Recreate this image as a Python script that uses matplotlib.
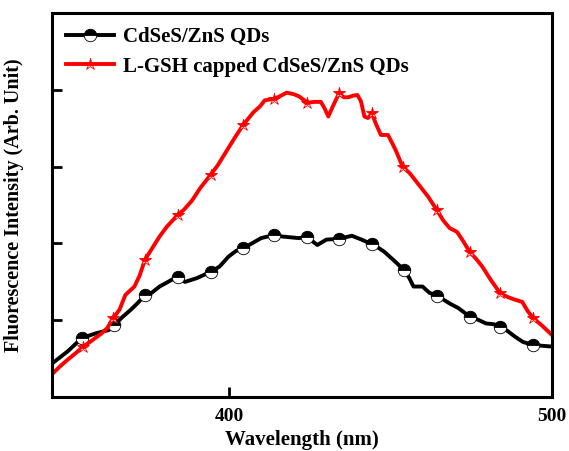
import numpy as np
import matplotlib.pyplot as plt

plt.rcParams['font.family'] = ['Liberation Serif', 'DejaVu Serif']
plt.rcParams['font.weight'] = 'bold'

# CdSeS/ZnS QDs
wl_black = [345.1, 350.0, 354.3, 358.5, 362.7, 364.4, 366.8, 369.4, 371.5, 373.9, 376.0,
            378.4, 381.0, 384.0, 386.3, 390.0, 394.2, 397.0, 399.8, 402.0, 404.3, 407.0,
            409.9, 414.0, 416.5, 418.9, 421.5, 424.2, 427.3, 430.1, 434.0, 436.0, 438.0,
            441.0, 444.2, 446.0, 448.1, 451.0, 454.3, 455.8, 457.1, 459.9, 462.0, 464.4,
            466.0, 468.3, 471.0, 474.5, 477.0, 479.6, 482.0, 484.0, 486.0, 488.5, 491.0,
            494.2, 497.0, 500.0]
int_black = [0.44, 0.60, 0.77, 0.83, 0.875, 0.94, 1.04, 1.135, 1.22, 1.33, 1.36,
             1.44, 1.50, 1.57, 1.50, 1.55, 1.63, 1.70, 1.83, 1.90, 1.94, 2.00,
             2.07, 2.11, 2.09, 2.08, 2.07, 2.08, 1.98, 2.05, 2.06, 2.08, 2.10,
             2.05, 1.99, 1.95, 1.89, 1.78, 1.65, 1.55, 1.44, 1.44, 1.36, 1.32,
             1.28, 1.22, 1.16, 1.05, 1.01, 0.96, 0.95, 0.92, 0.87, 0.79, 0.72,
             0.68, 0.67, 0.66]
mk_black = [2, 5, 9, 13, 16, 20, 23, 27, 30, 34, 38, 43, 47, 51, 55]

# L-GSH capped CdSeS/ZnS QDs
wl_red = [345.3, 347.5, 349.8, 352.0, 354.8, 357.5, 360.4, 362.2, 364.0, 366.0, 367.8,
          370.6, 372.2, 373.9, 376.0, 378.4, 380.7, 384.0, 386.0, 388.5, 391.0, 394.2,
          396.5, 398.7, 401.5, 404.3, 407.6, 409.5, 411.0, 414.0, 416.0, 417.8, 420.0,
          421.7, 424.2, 426.5, 428.4, 429.5, 430.7, 432.3, 434.0, 435.5, 436.9, 438.3,
          439.7, 440.8, 441.9, 443.0, 444.2, 445.5, 447.0, 449.2, 451.5, 453.7, 456.0,
          458.8, 461.6, 464.4, 466.3, 468.3, 470.6, 472.5, 474.5, 476.5, 478.4, 481.0,
          484.0, 486.5, 488.5, 490.8, 492.5, 494.2, 497.0, 500.0]
int_red = [0.31, 0.40, 0.485, 0.56, 0.66, 0.74, 0.83, 0.90, 1.03, 1.14, 1.33,
           1.44, 1.58, 1.79, 1.93, 2.09, 2.22, 2.37, 2.44, 2.56, 2.72, 2.89,
           3.02, 3.17, 3.36, 3.54, 3.71, 3.78, 3.86, 3.88, 3.92, 3.96, 3.94,
           3.91, 3.83, 3.84, 3.84, 3.76, 3.65, 3.80, 3.95, 3.90, 3.90, 3.92,
           3.93, 3.85, 3.65, 3.63, 3.69, 3.55, 3.41, 3.41, 3.22, 3.00, 2.91,
           2.76, 2.61, 2.43, 2.30, 2.20, 2.15, 2.03, 1.89, 1.80, 1.70, 1.53,
           1.35, 1.30, 1.27, 1.24, 1.12, 1.03, 0.93, 0.81]
mk_red = [4, 8, 13, 17, 21, 25, 29, 34, 40, 48, 53, 57, 62, 66, 71]

fig = plt.figure(figsize=(5.69, 4.51), dpi=100)
ax = fig.add_axes([0.091, 0.119, 0.879, 0.853])

ax.plot(wl_black, int_black, color='black', lw=2.8, marker='o', markersize=9,
        fillstyle='top', markerfacecolor='black', markerfacecoloralt='white',
        markeredgecolor='black', markeredgewidth=0.6, markevery=mk_black,
        label='CdSeS/ZnS QDs')
ax.plot(wl_red, int_red, color='red', lw=2.8, marker='*', markersize=9,
        fillstyle='top', markerfacecolor='red', markerfacecoloralt='white',
        markeredgecolor='red', markeredgewidth=0.6, markevery=mk_red,
        label='L-GSH capped CdSeS/ZnS QDs')

ax.set_xlim(345, 500)
ax.set_ylim(0, 5)
ax.set_xticks([400, 500])
ax.set_yticks([1, 2, 3, 4])
ax.set_yticklabels([])
ax.tick_params(direction='in', length=7, width=2, labelsize=14, pad=8)
for s in ax.spines.values():
    s.set_linewidth(2.2)

ax.set_xlabel('Wavelength (nm)', fontsize=15, fontweight='bold', labelpad=3)
ax.set_ylabel('Fluorescence Intensity (Arb. Unit)', fontsize=14.5, fontweight='bold', labelpad=12)

leg = ax.legend(loc='upper left', frameon=False, fontsize=15, handlelength=2.3,
                handletextpad=0.4, borderaxespad=0.3, labelspacing=0.45)

fig.savefig('out.png', dpi=100)
